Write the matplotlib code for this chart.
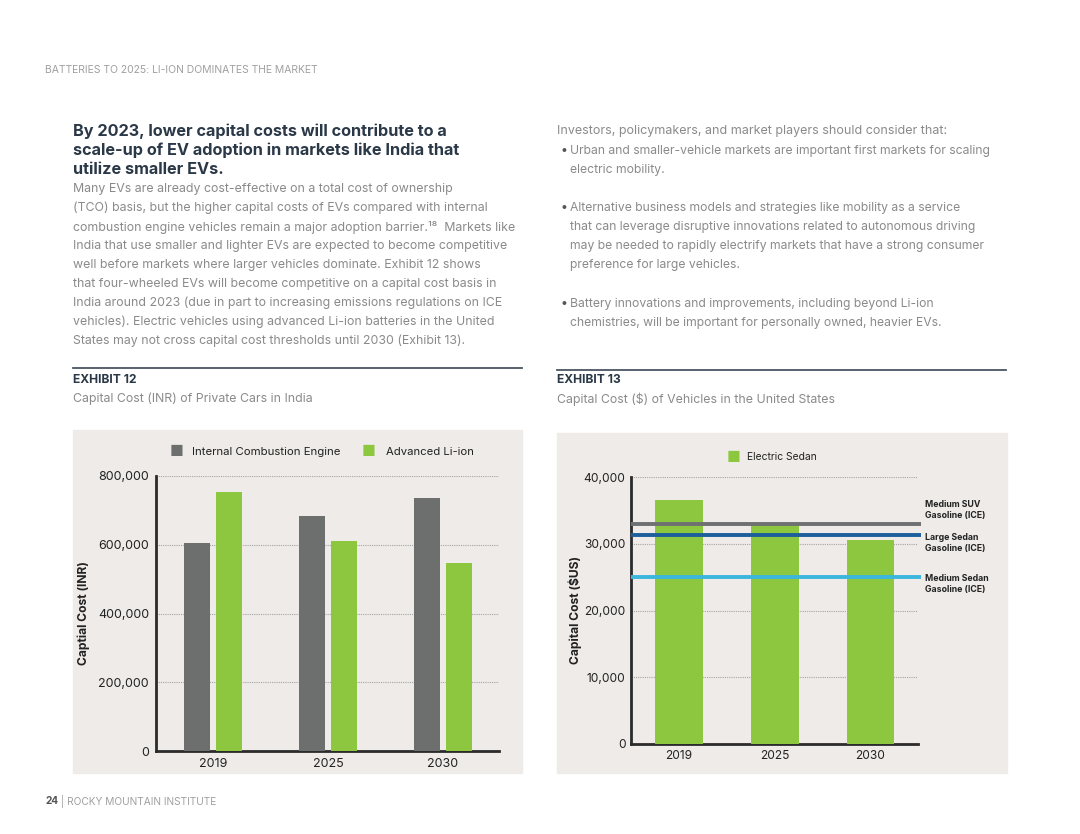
import matplotlib.pyplot as plt
from matplotlib.patches import Rectangle
from matplotlib.lines import Line2D
import numpy as np

W, H = 1080, 834

# ---- data ----
years = ['2019', '2025', '2030']
ice_inr = [605000, 684000, 736000]
liion_inr = [753000, 611000, 547000]

ev_sedan_usd = [36500, 32800, 30600]
ice_refs = ['Medium SUV\nGasoline (ICE)', 'Large Sedan\nGasoline (ICE)', 'Medium Sedan\nGasoline (ICE)']
ice_ref_values = [33000, 31300, 25000]

header = 'BATTERIES TO 2025: LI-ION DOMINATES THE MARKET'
headline = ['By 2023, lower capital costs will contribute to a',
            'scale-up of EV adoption in markets like India that',
            'utilize smaller EVs.']
body_left = ['Many EVs are already cost-effective on a total cost of ownership',
             '(TCO) basis, but the higher capital costs of EVs compared with internal',
             'combustion engine vehicles remain a major adoption barrier.\u00b9\u2078  Markets like',
             'India that use smaller and lighter EVs are expected to become competitive',
             'well before markets where larger vehicles dominate. Exhibit 12 shows',
             'that four-wheeled EVs will become competitive on a capital cost basis in',
             'India around 2023 (due in part to increasing emissions regulations on ICE',
             'vehicles). Electric vehicles using advanced Li-ion batteries in the United',
             'States may not cross capital cost thresholds until 2030 (Exhibit 13).']
intro_right = 'Investors, policymakers, and market players should consider that:'
bullets = [['Urban and smaller-vehicle markets are important first markets for scaling',
            'electric mobility.'],
           ['Alternative business models and strategies like mobility as a service',
            'that can leverage disruptive innovations related to autonomous driving',
            'may be needed to rapidly electrify markets that have a strong consumer',
            'preference for large vehicles.'],
           ['Battery innovations and improvements, including beyond Li-ion',
            'chemistries, will be important for personally owned, heavier EVs.']]

GREEN = '#8dc63f'
GREY = '#6d6e6e'
PANEL = '#eeebe8'
NAVY = '#2a3847'
BODY = '#8a8a8a'
FONT = ['Inter', 'DejaVu Sans']

plt.rcParams['font.family'] = FONT

fig = plt.figure(figsize=(W / 100, H / 100), dpi=100)


def px(x, y):
    return x / W, 1 - y / H


def ftext(x, y, s, **kw):
    fig.text(*px(x, y), s, **kw)


def add_ax(x0, y0, x1, y1):
    return fig.add_axes([x0 / W, 1 - y1 / H, (x1 - x0) / W, (y1 - y0) / H])


# ---- page text ----
ftext(45, 70, header, fontsize=7.5, color='#a0a0a0', va='center')
for i, line in enumerate(headline):
    ftext(73, 131 + i * 19, line, fontsize=11.7, fontweight='bold', color=NAVY, va='center')
for i, line in enumerate(body_left):
    ftext(73, 189 + i * 19, line, fontsize=8.9, color=BODY, va='center')

ftext(557, 131, intro_right, fontsize=9.0, color=BODY, va='center')
starts = [151, 208, 304]
for start, lines in zip(starts, bullets):
    ftext(560, start, '\u2022', fontsize=9, color='#555555', va='center')
    for j, line in enumerate(lines):
        ftext(570, start + j * 19, line, fontsize=8.75, color=BODY, va='center')

# exhibit headers
for x0, x1, y, tag, sub in [(73, 522, 368, 'EXHIBIT 12', 'Capital Cost (INR) of Private Cars in India'),
                            (557, 1006, 370, 'EXHIBIT 13', 'Capital Cost ($) of Vehicles in the United States')]:
    fig.add_artist(Line2D([x0 / W, x1 / W], [1 - y / H, 1 - y / H], color='#4a5663', lw=1.3))
    ftext(x0, 380, tag, fontsize=8.7, fontweight='bold', color=NAVY, va='center')
    ftext(x0, 399, sub, fontsize=8.9, color=BODY, va='center')

ftext(45, 801, '24', fontsize=7.3, fontweight='bold', color='#555555', va='center')
ftext(61, 801, '| ROCKY MOUNTAIN INSTITUTE', fontsize=7.3, color='#a0a0a0', va='center')

# chart panels
for x0, y0, x1, y1 in [(73, 430, 522, 773), (557, 433, 1007, 773)]:
    fig.add_artist(Rectangle(px(x0, y1), (x1 - x0) / W, (y1 - y0) / H,
                             transform=fig.transFigure, color=PANEL, zorder=0))

# ---- Exhibit 12 ----
ax = add_ax(156, 476, 499, 751)
x = np.arange(len(years))
bw = 0.226
ax.bar(x - 0.139, ice_inr, bw, color=GREY, zorder=3)
ax.bar(x + 0.139, liion_inr, bw, color=GREEN, zorder=3)
ax.set_xlim(-0.496, 2.487)
ax.set_ylim(0, 800000)
ax.set_yticks(range(0, 800001, 200000))
ax.set_yticklabels([f'{v:,}' for v in range(0, 800001, 200000)])
ax.set_xticks(x)
ax.set_xticklabels(years)
ax.set_facecolor('none')
for s in ['top', 'right']:
    ax.spines[s].set_visible(False)
for s in ['left', 'bottom']:
    ax.spines[s].set_color('#2b2b2b')
    ax.spines[s].set_linewidth(2)
ax.tick_params(length=0, labelsize=9, colors='#222222', pad=5)
ax.yaxis.grid(True, linestyle=(0, (1, 1)), color='#a5a5a5', lw=0.8)
ax.set_axisbelow(True)
ax.set_ylabel('Captial Cost (INR)', fontsize=8.7, fontweight='bold', color='#222222', labelpad=6)

ftext(170, 452, '\u25a0', fontsize=11, color=GREY, va='center')
ftext(192, 452, 'Internal Combustion Engine', fontsize=8.2, color='#222222', va='center')
ftext(362, 452, '\u25a0', fontsize=11, color=GREEN, va='center')
ftext(386, 452, 'Advanced Li-ion', fontsize=8.1, color='#222222', va='center')

# ---- Exhibit 13 ----
ax2 = add_ax(631, 477, 918, 744)
ax2.bar(x, ev_sedan_usd, 0.5, color=GREEN, zorder=3)
ax2.set_xlim(-0.501, 2.496)
ax2.set_ylim(0, 40000)
ax2.set_yticks(range(0, 40001, 10000))
ax2.set_yticklabels([f'{v:,}' for v in range(0, 40001, 10000)])
ax2.set_xticks(x)
ax2.set_xticklabels(years)
ax2.set_facecolor('none')
for s in ['top', 'right']:
    ax2.spines[s].set_visible(False)
for s in ['left', 'bottom']:
    ax2.spines[s].set_color('#2b2b2b')
    ax2.spines[s].set_linewidth(2)
ax2.tick_params(length=0, labelsize=8.6, colors='#222222', pad=4)
ax2.yaxis.grid(True, linestyle=(0, (1, 1)), color='#a5a5a5', lw=0.8)
ax2.set_axisbelow(True)
ax2.set_ylabel('Capital Cost ($US)', fontsize=8.7, fontweight='bold', color='#222222', labelpad=1)

line_colors = ['#6f7071', '#1d5f9c', '#3bb7dd']
label_y = [510, 543, 584]
for v, c, lab, ly in zip(ice_ref_values, line_colors, ice_refs, label_y):
    ax2.plot([-0.501, 2.53], [v, v], color=c, lw=2.8, zorder=4, clip_on=False,
             solid_capstyle='butt')
    ftext(925, ly, lab, fontsize=6.3, fontweight='bold', color='#222222', va='center',
          linespacing=1.3)

ftext(727, 457, '\u25a0', fontsize=11, color=GREEN, va='center')
ftext(747, 457, 'Electric Sedan', fontsize=7.4, color='#222222', va='center')

fig.savefig('out.png', dpi=100)
